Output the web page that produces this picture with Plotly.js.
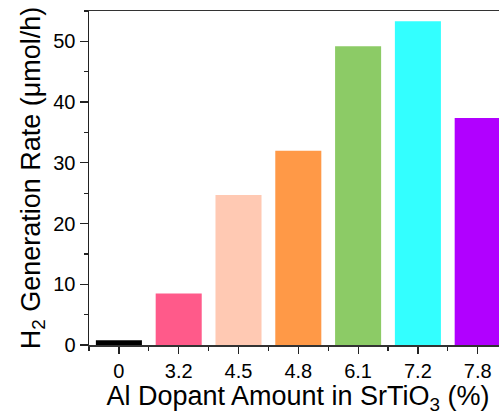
<!DOCTYPE html>
<html>
<head>
<meta charset="utf-8">
<script src="https://cdn.plot.ly/plotly-3.0.1.min.js"></script>
<style>
html,body{margin:0;padding:0;overflow:hidden;background:#fff;}
#chart{width:507px;height:417px;}
</style>
</head>
<body>
<div id="chart"></div>
<script>
const categories = ["0", "3.2", "4.5", "4.8", "6.1", "7.2", "7.8"];
const rates = [0.8, 8.5, 24.7, 32.0, 49.2, 53.3, 37.4];
const barColors = ["#000000", "#FF5A8A", "#FFC9B3", "#FF9947", "#8CCB66", "#33FFFF", "#B100FF"];

const positions = categories.map((c, i) => i);

const trace = {
  type: "bar",
  x: positions,
  y: rates,
  width: 0.77,
  marker: {color: barColors, line: {width: 0}},
  hoverinfo: "skip"
};

const font = "Liberation Sans, Arial, sans-serif";
const layout = {
  width: 507,
  height: 417,
  margin: {l: 89, r: 0, t: 11, b: 72},
  paper_bgcolor: "#fff",
  plot_bgcolor: "#fff",
  showlegend: false,
  font: {family: font, color: "#000", size: 20},
  xaxis: {
    range: [-0.5, 6.49],
    tickvals: positions,
    ticktext: categories,
    ticks: "outside",
    ticklen: 7,
    tickwidth: 1.2,
    tickcolor: "#222",
    minor: {tick0: 0.5, dtick: 1, ticks: "outside", ticklen: 4, tickwidth: 1.2, tickcolor: "#222"},
    showline: true,
    linecolor: "#333",
    linewidth: 1.5,
    mirror: true,
    showgrid: false,
    zeroline: false,
    tickfont: {size: 20, family: font, color: "#000"},
    title: {text: "Al Dopant Amount in SrTiO<sub>3</sub> (%)", font: {size: 27, family: font, color: "#000"}, standoff: 3}
  },
  yaxis: {
    range: [0, 55],
    tick0: 0,
    dtick: 10,
    ticks: "outside",
    ticklen: 8,
    tickwidth: 1.2,
    tickcolor: "#222",
    minor: {dtick: 5, ticks: "outside", ticklen: 4, tickwidth: 1.2, tickcolor: "#222"},
    showline: true,
    linecolor: "#222",
    linewidth: 1.5,
    showgrid: false,
    zeroline: false,
    tickfont: {size: 20, family: font, color: "#000"},
    title: {text: "H<sub>2</sub> Generation Rate (μmol/h)", font: {size: 27, family: font, color: "#000"}, standoff: 5}
  }
};

Plotly.newPlot("chart", [trace], layout, {staticPlot: true, displayModeBar: false});
</script>
</body>
</html>
